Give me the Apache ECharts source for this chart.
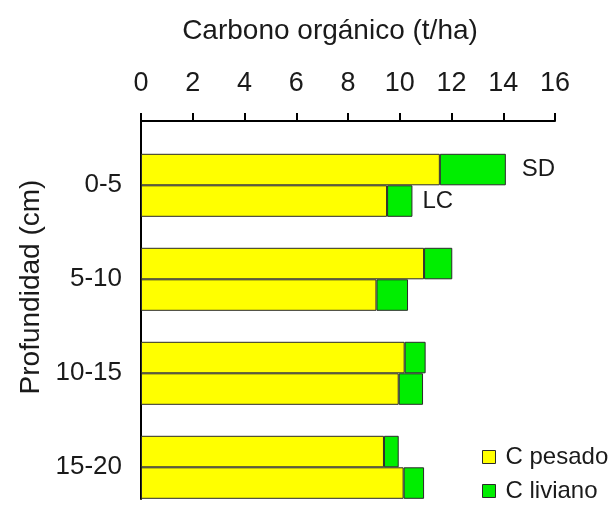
<!DOCTYPE html>
<html>
<head>
<meta charset="utf-8">
<script src="https://cdn.jsdelivr.net/npm/echarts@6/dist/echarts.min.js"></script>
<style>html,body{margin:0;padding:0;background:#fff}#c{width:609px;height:506px}</style>
</head>
<body>
<div id="c"></div>
<script>
const depths = ['0-5', '5-10', '10-15', '15-20'];
const sdPesado = [11.55, 10.94, 10.19, 9.39];
const sdLiviano = [2.55, 1.09, 0.81, 0.57];
const lcPesado = [9.51, 9.10, 9.96, 10.15];
const lcLiviano = [0.98, 1.22, 0.94, 0.79];
const xTicks = [0, 16, 2];
const seriesNames = ['C pesado', 'C liviano'];
const treatLabels = ['SD', 'LC'];

const FONT = "'Liberation Sans', Arial, sans-serif";
const TXT = '#1a1a1a';
const YEL = '#ffff00';
const GRN = '#00ee00';
const BORDER = '#2a2a2a';

function withLabel(arr, text, dist) {
  return arr.map((v, i) => i === 0 ? {
    value: v,
    label: { show: true, position: 'right', distance: dist, formatter: text,
             fontSize: 24, color: TXT, fontFamily: FONT }
  } : v);
}

const barBase = {
  type: 'bar', xAxisIndex: 1, yAxisIndex: 1, barWidth: 31.5, barGap: '0%',
  animation: false
};

const option = {
  animation: false,
  textStyle: { fontFamily: FONT },
  grid: [
    { left: 141, right: 54, top: 121, height: 378, outerBoundsMode: 'none', containLabel: false },
    { left: 141, right: 54, top: 138.3, height: 376, outerBoundsMode: 'none', containLabel: false }
  ],
  xAxis: [
    {
      gridIndex: 0, type: 'value', position: 'top',
      min: xTicks[0], max: xTicks[1], interval: xTicks[2],
      name: 'Carbono orgánico (t/ha)', nameLocation: 'middle', nameGap: 76,
      nameTextStyle: { fontSize: 28, color: TXT, fontFamily: FONT, padding: [0, 36, 0, 0] },
      axisLine: { show: true, onZero: false, lineStyle: { color: '#000', width: 2 } },
      axisTick: { show: true, inside: false, length: 8, lineStyle: { color: '#000', width: 2 } },
      axisLabel: { fontSize: 27, color: TXT, margin: 24, fontFamily: FONT },
      splitLine: { show: false }
    },
    {
      gridIndex: 1, type: 'value', min: xTicks[0], max: xTicks[1], show: false
    }
  ],
  yAxis: [
    {
      gridIndex: 0, type: 'value', min: 0, max: 1,
      name: 'Profundidad (cm)', nameLocation: 'middle', nameGap: 96, nameRotate: 90,
      nameTextStyle: { fontSize: 28, color: TXT, fontFamily: FONT, padding: [0, 0, 0, 46] },
      axisLine: { show: true, onZero: false, lineStyle: { color: '#000', width: 2 } },
      axisTick: { show: false }, axisLabel: { show: false }, splitLine: { show: false }
    },
    {
      gridIndex: 1, type: 'category', data: depths, inverse: true,
      axisLine: { show: false }, axisTick: { show: false },
      axisLabel: { fontSize: 26, color: TXT, margin: 19, fontFamily: FONT }
    }
  ],
  legend: {
    orient: 'vertical', left: 482, bottom: 3, padding: 0,
    itemWidth: 13, itemHeight: 13, itemGap: 10,
    itemStyle: { borderColor: BORDER, borderWidth: 1 },
    data: seriesNames,
    textStyle: { fontSize: 24, color: TXT, fontFamily: FONT, padding: [0, 0, 0, 5] },
    icon: 'rect'
  },
  series: [
    Object.assign({}, barBase, { name: seriesNames[0], stack: 'SD', data: sdPesado,
      itemStyle: { color: YEL, borderColor: BORDER, borderWidth: 1 } }),
    Object.assign({}, barBase, { name: seriesNames[1], stack: 'SD', data: withLabel(sdLiviano, treatLabels[0], 16),
      itemStyle: { color: GRN, borderColor: BORDER, borderWidth: 1 } }),
    Object.assign({}, barBase, { name: seriesNames[0], stack: 'LC', data: lcPesado,
      itemStyle: { color: YEL, borderColor: BORDER, borderWidth: 1 } }),
    Object.assign({}, barBase, { name: seriesNames[1], stack: 'LC', data: withLabel(lcLiviano, treatLabels[1], 10),
      itemStyle: { color: GRN, borderColor: BORDER, borderWidth: 1 } })
  ]
};

const chart = echarts.init(document.getElementById('c'), null, { renderer: 'canvas' });
chart.setOption(option);
</script>
</body>
</html>
